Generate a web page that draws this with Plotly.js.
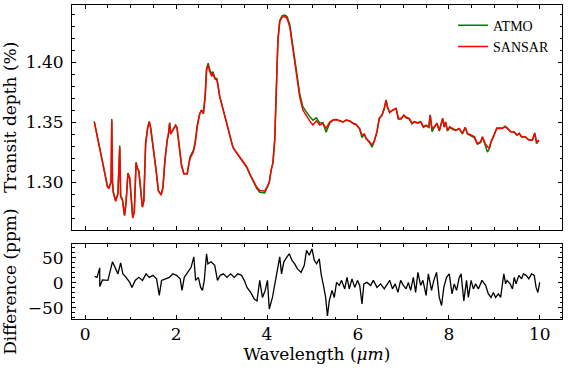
<!DOCTYPE html>
<html>
<head>
<meta charset="utf-8">
<script src="https://cdn.plot.ly/plotly-3.0.1.min.js"></script>
<style>html,body{margin:0;padding:0;background:#fff}#chart{width:570px;height:375px}</style>
</head>
<body>
<div id="chart"></div>
<script>
// Wavelength grid (µm) of the transit spectra
const wavelength = [0.20,0.29,0.40,0.49,0.52,0.57,0.585,0.60,0.62,0.67,0.72,0.76,0.78,0.82,0.865,0.90,0.94,0.98,1.01,1.046,1.08,1.12,1.15,1.18,1.22,1.258,1.29,1.33,1.375,1.41,1.44,1.50,1.56,1.61,1.67,1.71,1.755,1.806,1.83,1.858,1.88,1.91,1.953,1.99,2.02,2.063,2.12,2.17,2.245,2.28,2.31,2.38,2.42,2.465,2.52,2.56,2.60,2.64,2.67,2.705,2.74,2.787,2.81,2.85,2.90,2.96,3.035,3.11,3.18,3.25,3.32,3.40,3.47,3.55,3.62,3.69,3.77,3.84,3.91,3.95,4.00,4.05,4.09,4.13,4.17,4.21,4.24,4.28,4.33,4.39,4.44,4.50,4.57,4.645,4.72,4.79,4.865,4.94,5.01,5.085,5.16,5.23,5.30,5.38,5.45,5.52,5.60,5.67,5.74,5.82,5.89,5.96,6.035,6.09,6.14,6.18,6.255,6.31,6.36,6.42,6.47,6.53,6.58,6.62,6.65,6.70,6.765,6.84,6.89,6.95,7.01,7.06,7.13,7.19,7.24,7.31,7.38,7.44,7.50,7.56,7.59,7.63,7.68,7.74,7.79,7.865,7.90,7.93,7.97,8.02,8.08,8.155,8.23,8.30,8.36,8.41,8.485,8.56,8.63,8.70,8.74,8.80,8.85,8.89,8.93,9.00,9.055,9.11,9.18,9.24,9.29,9.36,9.43,9.50,9.55,9.60,9.68,9.765,9.84,9.89,9.93,9.985];

// SANSAR transit depth (%)
const sansar = [1.350,1.332,1.313,1.296,1.2945,1.300,1.351,1.300,1.291,1.284,1.290,1.329,1.288,1.285,1.272,1.283,1.307,1.303,1.288,1.270,1.275,1.316,1.311,1.309,1.294,1.279,1.284,1.332,1.345,1.350,1.345,1.329,1.310,1.293,1.289,1.295,1.318,1.335,1.339,1.349,1.340,1.342,1.345,1.347,1.345,1.332,1.314,1.307,1.307,1.315,1.320,1.325,1.332,1.346,1.357,1.360,1.357,1.371,1.393,1.3975,1.392,1.388,1.391,1.386,1.385,1.371,1.360,1.349,1.341,1.329,1.325,1.321,1.317,1.313,1.307,1.302,1.296,1.293,1.2925,1.2925,1.296,1.300,1.310,1.316,1.335,1.382,1.418,1.4336,1.4372,1.4378,1.4364,1.4294,1.410,1.388,1.371,1.360,1.355,1.351,1.3475,1.351,1.3475,1.349,1.3447,1.350,1.3517,1.352,1.351,1.350,1.3517,1.351,1.349,1.348,1.3447,1.339,1.340,1.3364,1.3336,1.3308,1.334,1.342,1.353,1.356,1.3614,1.3683,1.3625,1.358,1.360,1.3614,1.353,1.353,1.3558,1.354,1.353,1.349,1.3503,1.3494,1.3503,1.3461,1.3475,1.346,1.3558,1.3447,1.346,1.349,1.343,1.353,1.346,1.350,1.343,1.3461,1.3447,1.3433,1.3447,1.3406,1.3456,1.3406,1.3392,1.3378,1.332,1.3336,1.3378,1.332,1.3294,1.3281,1.3336,1.3392,1.3447,1.3447,1.3447,1.3461,1.3447,1.342,1.342,1.3392,1.3406,1.3378,1.3378,1.335,1.335,1.3406,1.3336,1.335];

// ATMO transit depth (%)
const atmo = [1.3505,1.3325,1.3135,1.2965,1.295,1.3005,1.3525,1.3005,1.2915,1.2845,1.2905,1.3305,1.2885,1.2855,1.2725,1.2835,1.3075,1.3035,1.2885,1.2705,1.2755,1.3165,1.3115,1.3095,1.2945,1.2795,1.2845,1.3325,1.3455,1.3505,1.3455,1.3295,1.3100,1.2925,1.2895,1.2955,1.3185,1.3355,1.3395,1.3495,1.3405,1.3425,1.3455,1.3475,1.3455,1.3320,1.3140,1.3070,1.3070,1.3150,1.3215,1.3265,1.3335,1.3475,1.3570,1.3600,1.3570,1.3725,1.3945,1.3990,1.3935,1.3895,1.3920,1.3870,1.3860,1.3715,1.3605,1.3495,1.3410,1.3290,1.3250,1.3210,1.3165,1.3125,1.3065,1.3010,1.2950,1.2915,1.2910,1.2910,1.2950,1.2995,1.3095,1.3160,1.3355,1.3825,1.4185,1.4345,1.4385,1.4392,1.4380,1.4315,1.4125,1.3905,1.3735,1.3625,1.3580,1.3545,1.3515,1.3535,1.3490,1.3495,1.3415,1.3490,1.3515,1.3520,1.3510,1.3500,1.3515,1.3510,1.3490,1.3480,1.3445,1.3370,1.3400,1.3360,1.3330,1.3290,1.3340,1.3420,1.3530,1.3555,1.3610,1.3685,1.3625,1.3580,1.3600,1.3610,1.3525,1.3525,1.3555,1.3535,1.3525,1.3485,1.3500,1.3490,1.3500,1.3455,1.3470,1.3455,1.3560,1.3420,1.3455,1.3490,1.3425,1.3530,1.3455,1.3500,1.3425,1.3455,1.3440,1.3430,1.3445,1.3400,1.3455,1.3400,1.3385,1.3370,1.3315,1.3330,1.3375,1.3310,1.3250,1.3275,1.3335,1.3395,1.3450,1.3450,1.3450,1.3465,1.3450,1.3420,1.3420,1.3390,1.3405,1.3375,1.3375,1.3350,1.3350,1.3410,1.3320,1.3345];

// Difference ATMO - SANSAR (ppm)
const diffWavelength = [0.21,0.26,0.32,0.321,0.38,0.50,0.60,0.66,0.72,0.78,0.83,0.90,0.98,1.03,1.10,1.18,1.26,1.34,1.41,1.49,1.57,1.63,1.68,1.77,1.85,1.93,2.01,2.09,2.13,2.18,2.25,2.33,2.39,2.43,2.49,2.54,2.58,2.62,2.67,2.70,2.77,2.85,2.91,2.97,3.04,3.12,3.20,3.28,3.36,3.44,3.50,3.56,3.64,3.72,3.78,3.84,3.90,3.96,4.01,4.05,4.12,4.17,4.24,4.28,4.32,4.37,4.44,4.49,4.55,4.61,4.67,4.75,4.82,4.87,4.93,4.99,5.04,5.09,5.15,5.19,5.25,5.29,5.33,5.37,5.43,5.48,5.53,5.59,5.64,5.71,5.76,5.81,5.87,5.93,5.99,6.04,6.09,6.13,6.20,6.28,6.34,6.42,6.50,6.58,6.65,6.70,6.76,6.82,6.88,6.94,7.00,7.06,7.11,7.16,7.22,7.27,7.32,7.38,7.43,7.50,7.55,7.62,7.67,7.73,7.79,7.84,7.89,7.95,8.01,8.07,8.12,8.17,8.23,8.27,8.33,8.39,8.43,8.49,8.54,8.59,8.65,8.73,8.81,8.87,8.93,8.98,9.03,9.09,9.14,9.21,9.25,9.28,9.35,9.40,9.44,9.48,9.54,9.60,9.64,9.70,9.76,9.82,9.88,9.92,9.96,10.0];
const difference = [13,11,30,-7,6,5,42,28,18,40,18,11,1,-9,5,11,5,18,11,15,8,-25,5,8,11,18,15,8,-15,11,21,31,52,5,11,-9,-15,5,58,38,42,35,5,15,18,11,18,11,18,15,5,-9,-19,-32,-36,5,-29,-15,5,-52,-29,-2,38,52,18,42,52,58,45,38,28,21,35,65,55,68,45,38,48,18,-9,-29,-66,-36,-15,-29,1,-5,5,-12,11,-12,8,-9,5,-5,-42,-2,1,-5,5,-9,-2,-12,-2,5,-12,-2,-19,5,-5,-12,1,-15,11,-19,21,-5,5,-25,18,-15,5,21,-29,-45,-9,11,18,-22,-2,-15,11,18,-36,5,-29,5,-12,-2,-12,5,-5,-22,-29,-19,-29,-22,-29,18,-2,5,-2,-12,11,-2,15,8,18,15,8,18,15,-9,-19,1];

const xTicks = [0,2,4,6,8,10];
const depthTicks = [1.30,1.35,1.40];
const diffTicks = [-50,0,50];

const FONT = 'DejaVu Serif';
const axisFont = {family: FONT, size: 17, color: '#000', weight: 'normal'};

const traces = [
  {x: wavelength, y: atmo, name: 'ATMO', type: 'scatter', mode: 'lines',
   line: {color: '#008000', width: 1.5}, xaxis: 'x2', yaxis: 'y'},
  {x: wavelength, y: sansar, name: 'SANSAR', type: 'scatter', mode: 'lines',
   line: {color: '#ff0000', width: 1.5}, xaxis: 'x2', yaxis: 'y'},
  {x: diffWavelength, y: difference, name: 'Difference', type: 'scatter', mode: 'lines',
   line: {color: '#000000', width: 1.3}, xaxis: 'x', yaxis: 'y2', showlegend: false}
];

const axisCommon = {
  showline: true, linecolor: '#000', linewidth: 1, mirror: 'allticks',
  ticks: 'inside', ticklen: 4, tickcolor: '#000', tickwidth: 1,
  showgrid: false, zeroline: false, tickfont: axisFont
};

const layout = {
  width: 570, height: 375,
  margin: {l: 72, r: 8, t: 5, b: 56},
  paper_bgcolor: '#fff', plot_bgcolor: '#fff',
  font: axisFont,
  showlegend: true,
  legend: {x: 0.7776, xanchor: 'left', y: 0.985, yanchor: 'top',
           bgcolor: 'rgba(0,0,0,0)', borderwidth: 0,
           font: {family: 'Liberation Serif', size: 14, color: '#000'}},
  xaxis: Object.assign({}, axisCommon, {
    domain: [0, 1], anchor: 'y2', range: [-0.29, 10.49],
    tickvals: xTicks, ticktext: xTicks.map(String),
    minor: {ticks: 'inside', dtick: 0.5, tick0: 0, ticklen: 2.5, tickcolor: '#000'},
    title: {text: 'Wavelength (<i>μm</i>)', font: axisFont, standoff: 4}
  }),
  xaxis2: Object.assign({}, axisCommon, {
    domain: [0, 1], anchor: 'y', range: [-0.29, 10.49], matches: 'x',
    tickvals: xTicks, showticklabels: false,
    minor: {ticks: 'inside', dtick: 0.5, tick0: 0, ticklen: 2.5, tickcolor: '#000'}
  }),
  yaxis: Object.assign({}, axisCommon, {
    domain: [0.2844, 1], anchor: 'x2', range: [1.2603, 1.4475],
    tickvals: depthTicks, ticktext: depthTicks.map(v => v.toFixed(2)),
    ticklabelstandoff: 4,
    minor: {ticks: 'inside', dtick: 0.01, tick0: 1.30, ticklen: 2.5, tickcolor: '#000'},
    title: {text: 'Transit depth (%)', font: axisFont, standoff: 6}
  }),
  yaxis2: Object.assign({}, axisCommon, {
    domain: [0, 0.238], anchor: 'x', range: [-72, 77],
    tickvals: diffTicks, ticktext: ['\u221250', '0', '50'],
    ticklabelstandoff: 4,
    minor: {ticks: 'inside', dtick: 10, tick0: 0, ticklen: 2.5, tickcolor: '#000'},
    title: {text: 'Difference (ppm)', font: axisFont, standoff: 6}
  })
};

Plotly.newPlot('chart', traces, layout, {displayModeBar: false, staticPlot: true});
</script>
</body>
</html>
